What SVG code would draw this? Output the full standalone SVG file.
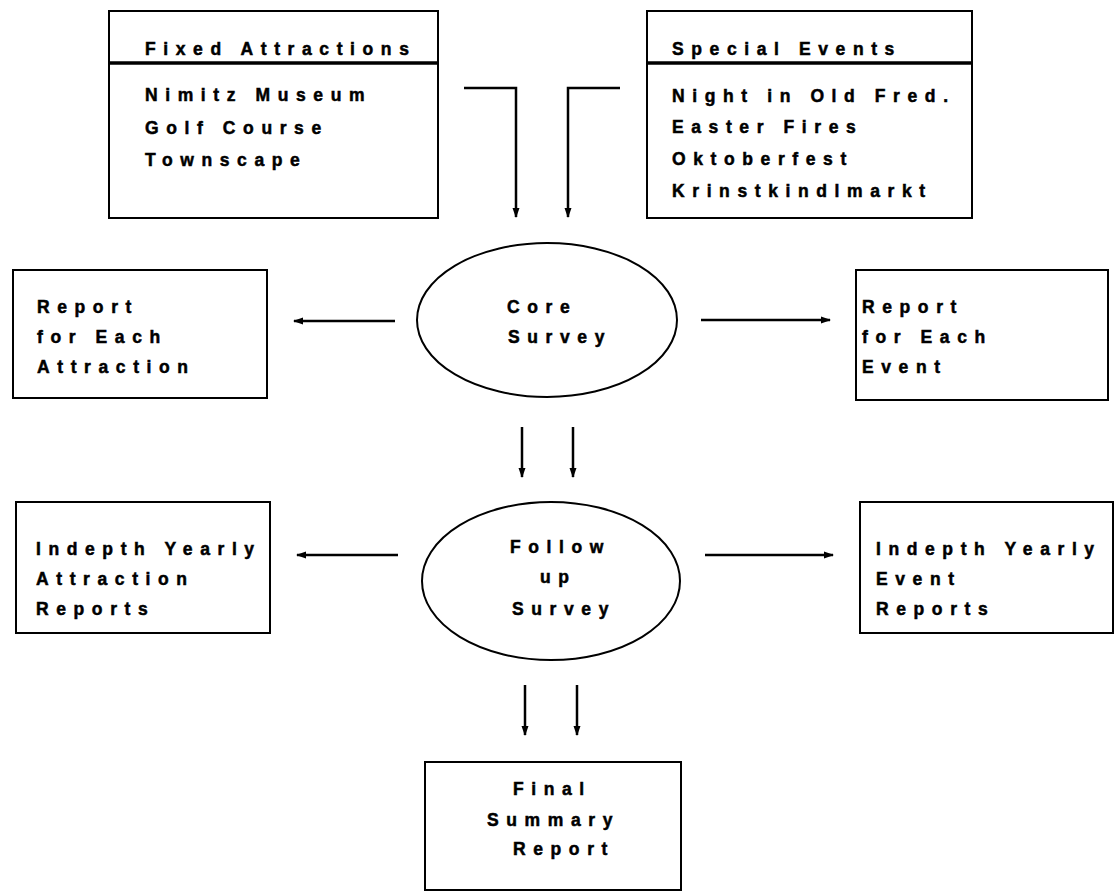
<svg xmlns="http://www.w3.org/2000/svg" width="1120" height="892" viewBox="0 0 1120 892">
  <style>
    .box { fill: #fff; stroke: #000; stroke-width: 2; }
    .sep { stroke: #000; stroke-width: 3.5; }
    .oval { fill: #fff; stroke: #000; stroke-width: 2; }
    .lbl { font-family: "Liberation Sans", Arial, Helvetica, sans-serif; font-weight: bold; font-size: 17.5px; letter-spacing: 7.6px; fill: #000; stroke: #000; stroke-width: 0.5px; }
    .wire { fill: none; stroke: #000; stroke-width: 2.5; marker-end: url(#tip); }
  </style>
  <defs>
    <marker id="tip" markerUnits="userSpaceOnUse" markerWidth="10" markerHeight="8" refX="9" refY="4" orient="auto">
      <path d="M0,0.5 L10,4 L0,7.5 Z" fill="#000"/>
    </marker>
  </defs>
  <rect width="1120" height="892" fill="#fff"/>

  <!-- connectors -->
  <g id="connectors">
    <path class="wire" d="M464,88 H516 V217"/>
    <path class="wire" d="M620,88 H568 V217"/>
    <path class="wire" d="M395,321 H294"/>
    <path class="wire" d="M701,320 H830"/>
    <path class="wire" d="M522,427 V477"/>
    <path class="wire" d="M573,427 V477"/>
    <path class="wire" d="M398,555 H297"/>
    <path class="wire" d="M705,555 H833"/>
    <path class="wire" d="M525,685 V735"/>
    <path class="wire" d="M577,685 V735"/>
  </g>

  <!-- source lists -->
  <g id="fixed-attractions">
    <rect class="box" x="109" y="11" width="329" height="207"/>
    <line class="sep" x1="109" y1="63" x2="438" y2="63"/>
    <text class="lbl" x="145" y="55">Fixed Attractions</text>
    <text class="lbl" x="145" y="101">Nimitz Museum</text>
    <text class="lbl" x="145" y="134">Golf Course</text>
    <text class="lbl" x="145" y="166">Townscape</text>
  </g>

  <g id="special-events">
    <rect class="box" x="647" y="11" width="325" height="207"/>
    <line class="sep" x1="647" y1="63" x2="972" y2="63"/>
    <text class="lbl" x="672" y="55">Special Events</text>
    <text class="lbl" x="672" y="102">Night in Old Fred.</text>
    <text class="lbl" x="672" y="133">Easter Fires</text>
    <text class="lbl" x="672" y="165">Oktoberfest</text>
    <text class="lbl" x="672" y="197">Krinstkindlmarkt</text>
  </g>

  <!-- surveys -->
  <g id="core-survey">
    <ellipse class="oval" cx="547" cy="320" rx="130" ry="77"/>
    <text class="lbl" x="507" y="313">Core</text>
    <text class="lbl" x="508" y="343">Survey</text>
  </g>

  <g id="follow-up-survey">
    <ellipse class="oval" cx="551" cy="581" rx="129" ry="79"/>
    <text class="lbl" x="510" y="553">Follow</text>
    <text class="lbl" x="540" y="583">up</text>
    <text class="lbl" x="512" y="615">Survey</text>
  </g>

  <!-- reports -->
  <g id="report-attraction">
    <rect class="box" x="13" y="270" width="254" height="128"/>
    <text class="lbl" x="37" y="313">Report</text>
    <text class="lbl" x="37" y="343">for Each</text>
    <text class="lbl" x="37" y="373">Attraction</text>
  </g>

  <g id="report-event">
    <rect class="box" x="856" y="270" width="252" height="130"/>
    <text class="lbl" x="862" y="313">Report</text>
    <text class="lbl" x="862" y="343">for Each</text>
    <text class="lbl" x="862" y="373">Event</text>
  </g>

  <g id="yearly-attraction">
    <rect class="box" x="16" y="502" width="254" height="131"/>
    <text class="lbl" x="36" y="555">Indepth Yearly</text>
    <text class="lbl" x="36" y="585">Attraction</text>
    <text class="lbl" x="36" y="615">Reports</text>
  </g>

  <g id="yearly-event">
    <rect class="box" x="860" y="502" width="253" height="131"/>
    <text class="lbl" x="876" y="555">Indepth Yearly</text>
    <text class="lbl" x="876" y="585">Event</text>
    <text class="lbl" x="876" y="615">Reports</text>
  </g>

  <g id="final-summary">
    <rect class="box" x="425" y="762" width="256" height="128"/>
    <text class="lbl" x="513" y="795">Final</text>
    <text class="lbl" x="487" y="826">Summary</text>
    <text class="lbl" x="513" y="855">Report</text>
  </g>
</svg>
